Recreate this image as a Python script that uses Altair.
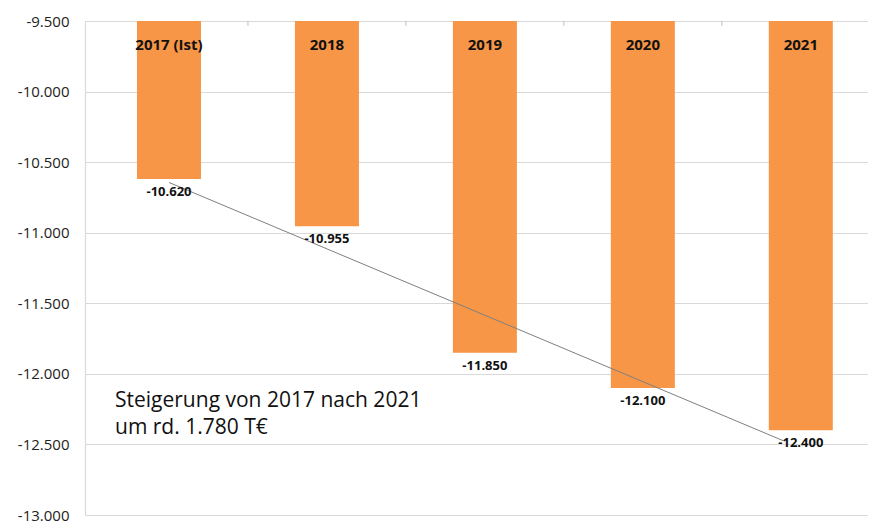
import altair as alt
import pandas as pd

categories = ["2017 (Ist)", "2018", "2019", "2020", "2021"]
values = [-10620, -10955, -11850, -12100, -12400]
y_ticks = [-13000, -12500, -12000, -11500, -11000, -10500, -10000, -9500]
boundaries = [0.5, 1.5, 2.5, 3.5]
note = ["Steigerung von 2017 nach 2021", "um rd. 1.780 T€"]

df = pd.DataFrame({"cat": categories, "value": values, "idx": list(range(len(categories)))})
df_b = pd.DataFrame({"b": boundaries})

W, H = 783, 494
FONT = "Open Sans"
ORANGE = "#F79646"
GRID = "#D9D9D9"

xscale = alt.Scale(domain=[-0.5, -0.5 + W / 160], nice=False, zero=False)
yscale = alt.Scale(domain=[-13000, -9500], nice=False, zero=False)

base = alt.Chart(df)

bars = base.mark_bar(size=64, color=ORANGE).encode(
    x=alt.X("idx:Q", scale=xscale, axis=None),
    y=alt.Y("value:Q", scale=yscale, title=None,
            axis=alt.Axis(values=y_ticks, format=",.0f", grid=True, gridColor=GRID,
                          gridWidth=1.2, domainColor=GRID, domainWidth=1.2, ticks=False,
                          labelPadding=16, labelFontSize=15, labelFont=FONT,
                          labelColor="#222222")),
    y2=alt.datum(-9500),
)

trend = base.transform_regression("idx", "value", extent=[0, 3.89]).mark_line(
    color="#7F7F7F", strokeWidth=1
).encode(x=alt.X("idx:Q", scale=xscale), y=alt.Y("value:Q", scale=yscale))

val_labels = base.mark_text(fontWeight="bold", fontSize=13, font=FONT, baseline="top",
                            dy=7, color="#111111").encode(
    x=alt.X("idx:Q", scale=xscale), y=alt.Y("value:Q", scale=yscale),
    text=alt.Text("value:Q", format=",.0f"),
)

cat_labels = base.mark_text(fontWeight="bold", fontSize=15, font=FONT, baseline="middle",
                            dy=24, color="#111111").encode(
    x=alt.X("idx:Q", scale=xscale), y=alt.datum(-9500), text="cat:N",
)

ticks = alt.Chart(df_b).mark_rule(color="#BFBFBF", strokeWidth=1).encode(
    x=alt.X("b:Q", scale=xscale), y=alt.value(0), y2=alt.value(5),
)

annot = alt.Chart(pd.DataFrame({"t": [note]})).mark_text(
    align="left", baseline="middle", fontSize=21, font=FONT, lineHeight=27, color="#111111"
).encode(x=alt.value(30), y=alt.value(380), text="t")

chart = alt.layer(bars, trend, val_labels, cat_labels, ticks, annot).properties(
    width=W, height=H,
    autosize=alt.AutoSizeParams(type="none"),
    padding={"left": 77, "top": 13, "right": 0, "bottom": 9},
).configure_view(stroke=None).configure(
    locale={"number": {"decimal": ",", "thousands": ".", "grouping": [3],
                       "currency": ["", " €"], "minus": "-"}}
)

chart.save("out.html", embed_options={"renderer": "svg", "actions": False})
